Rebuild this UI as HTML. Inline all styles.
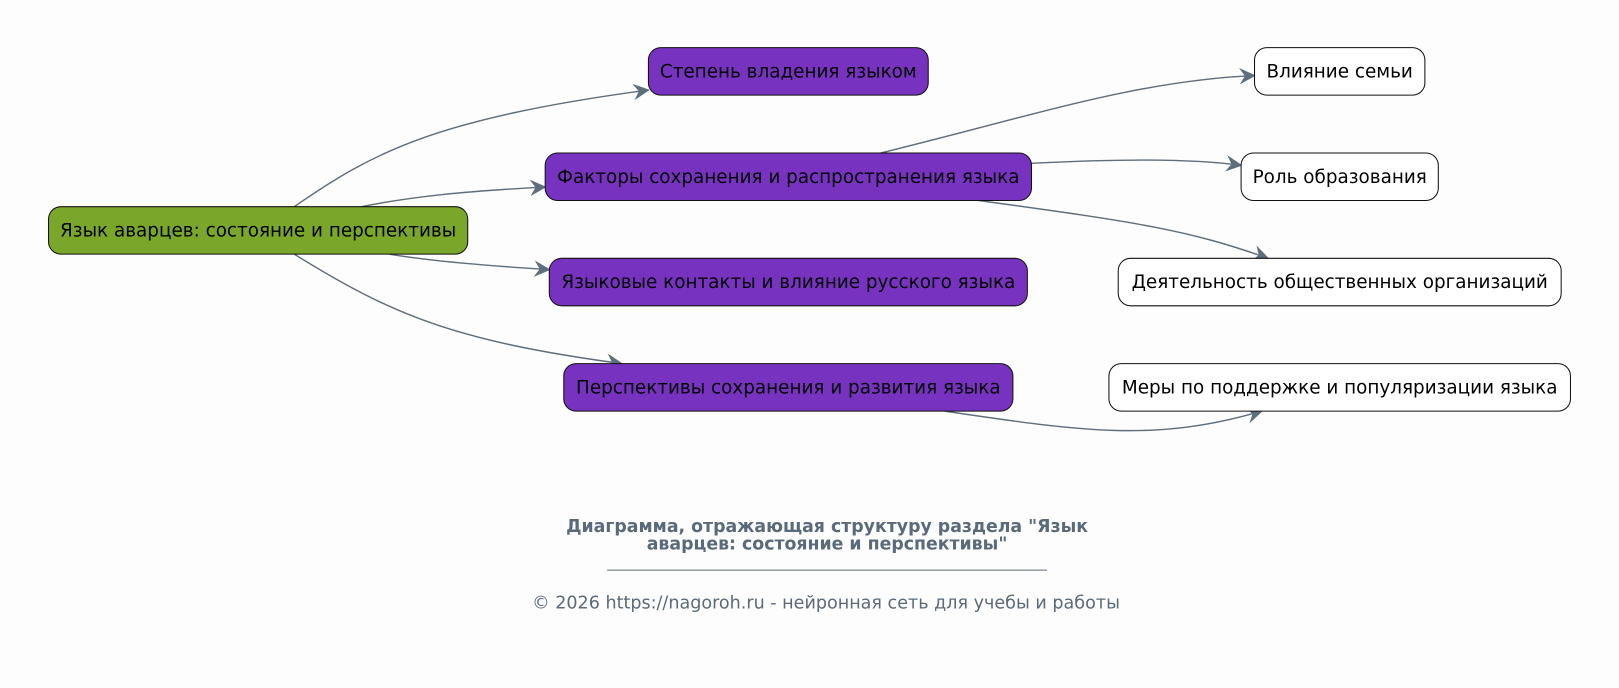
<!DOCTYPE html>
<html><head><meta charset="utf-8"><style>
html,body{margin:0;padding:0;background:#fdfdfd;}
svg{display:block;}
text{font-family:"DejaVu Sans","Liberation Sans",sans-serif;}
</style></head><body>
<svg width="1619" height="688" viewBox="0 0 1568 666" xmlns="http://www.w3.org/2000/svg">
<rect width="1568" height="666" fill="#fdfdfd"/>
<defs>
<marker id="a" viewBox="0 0 12 12" refX="11" refY="6" markerWidth="16" markerHeight="16" markerUnits="userSpaceOnUse" orient="auto">
<path d="M0,0 L12,6 L0,12 L4,6 Z" fill="#5f6e7c"/>
</marker>
</defs>
<g fill="none" stroke="#5f6e7c" stroke-width="1.4" marker-end="url(#a)">
<path d="M285,200 C360,148 420,115 628,87"/>
<path d="M350,200 C400,190 450,185 528,181"/>
<path d="M377,246 C420,253 470,257 532,261"/>
<path d="M285,246 C380,305 440,330 602,352"/>
<path d="M853,148 C1000,112 1100,78 1215,73"/>
<path d="M999,158 C1080,154 1150,153 1202,160"/>
<path d="M948,194 C1100,215 1150,222 1228,250"/>
<path d="M915,398 C1050,418 1120,428 1222,398"/>
</g>
<g stroke="#111" stroke-width="1">
<rect x="47" y="200" width="406" height="46" rx="12" fill="#7aa62a"/>
<rect x="628" y="46" width="271" height="46" rx="12" fill="#7733c0"/>
<rect x="528" y="148" width="471" height="46" rx="12" fill="#7733c0"/>
<rect x="532" y="250" width="463" height="46" rx="12" fill="#7733c0"/>
<rect x="546" y="352" width="435" height="46" rx="12" fill="#7733c0"/>
<rect x="1215" y="46" width="165" height="46" rx="12" fill="#fff"/>
<rect x="1202" y="148" width="191" height="46" rx="12" fill="#fff"/>
<rect x="1083" y="250" width="429" height="46" rx="12" fill="#fff"/>
<rect x="1074" y="352" width="447" height="46" rx="12" fill="#fff"/>
</g>
<g font-size="17.8" fill="#000" text-anchor="middle">
<text x="250" y="229">Язык аварцев: состояние и перспективы</text>
<text x="763.5" y="75">Степень владения языком</text>
<text x="763.5" y="177">Факторы сохранения и распространения языка</text>
<text x="763.5" y="279">Языковые контакты и влияние русского языка</text>
<text x="763.5" y="381">Перспективы сохранения и развития языка</text>
<text x="1297.5" y="75">Влияние семьи</text>
<text x="1297.5" y="177">Роль образования</text>
<text x="1297.5" y="279">Деятельность общественных организаций</text>
<text x="1297.5" y="381">Меры по поддержке и популяризации языка</text>
</g>
<g fill="#5a6a7a" text-anchor="middle">
<text x="801" y="515" font-size="16.8" font-weight="bold">Диаграмма, отражающая структуру раздела "Язык</text>
<text x="801" y="532" font-size="16.8" font-weight="bold">аварцев: состояние и перспективы"</text>
<text x="800" y="589" font-size="17">© 2026 https://nagoroh.ru - нейронная сеть для учебы и работы</text>
</g>
<line x1="588" y1="552" x2="1014" y2="552" stroke="#5a6a7a" stroke-width="1"/>
</svg>
</body></html>
